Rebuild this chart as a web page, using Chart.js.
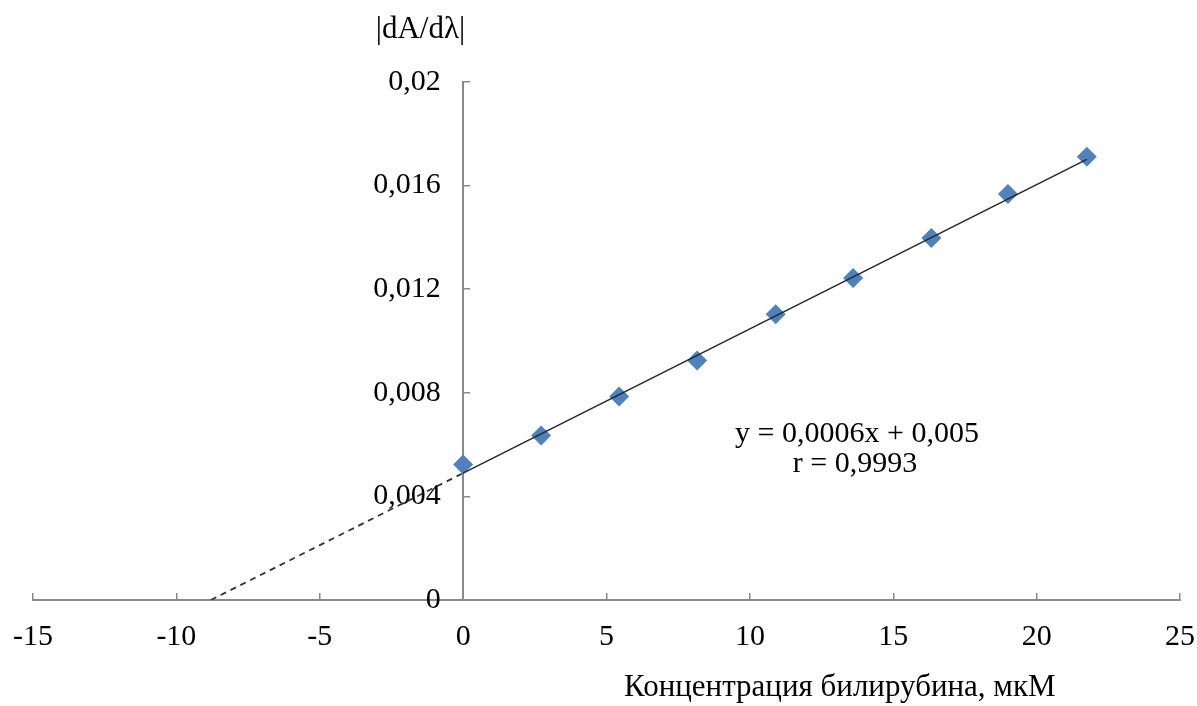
<!DOCTYPE html>
<html>
<head>
<meta charset="utf-8">
<script src="https://cdn.jsdelivr.net/npm/chart.js@4.4.1/dist/chart.umd.min.js"></script>
<style>
  html, body { margin: 0; padding: 0; background: #fff; }
  #wrap { width: 1197px; height: 706px; }
</style>
</head>
<body>
<div id="wrap"><canvas id="grafico" width="1197" height="706"></canvas></div>
<script>
// данные
const concentration = [0, 2.72, 5.44, 8.16, 10.9, 13.6, 16.33, 19.0, 21.75];
const derivative = [0.00523, 0.00635, 0.00786, 0.00925, 0.01103, 0.01243, 0.01398, 0.01568, 0.01711];
const xTicks = [-15, -10, -5, 0, 5, 10, 15, 20, 25];
const yTicks = [0, 0.004, 0.008, 0.012, 0.016, 0.02];
const trendSlope = 0.000557;
const trendIntercept = 0.0049;
const trendEndX = 21.75;
const equationLines = ['y = 0,0006x + 0,005', 'r = 0,9993'];
const xTitle = 'Концентрация билирубина, мкМ';
const yTitle = '|dA/dλ|';

const FONT = "'Liberation Serif', 'Times New Roman', serif";
const AXIS_COLOR = '#8a8a8a';

const zeroX = -trendIntercept / trendSlope;
const solidLine = [
    { x: 0, y: trendIntercept },
    { x: trendEndX, y: trendSlope * trendEndX + trendIntercept }
];
const dashedLine = [
    { x: zeroX, y: 0 },
    { x: 0, y: trendIntercept }
];
const points = concentration.map((x, i) => ({ x: x, y: derivative[i] }));

// подпись оси Y рисуется вплотную к оси, поэтому добавляем пробелы справа
const fmt = v => (v === 0 ? '0' : String(+v.toFixed(3)).replace('.', ',')) + '\u2002\u2005';

// подписи: заголовки осей и уравнение
const textPlugin = {
    id: 'texts',
    afterDraw(chart) {
        const c = chart.ctx;
        const x0 = chart.scales.x.getPixelForValue(0);
        c.save();
        c.fillStyle = '#000';
        c.textBaseline = 'middle';
        c.font = '31px ' + FONT;
        c.textAlign = 'right';
        c.fillText(yTitle, x0 + 2, 30);
        c.textAlign = 'left';
        c.fillText(xTitle, 624, 688);
        c.font = '30px ' + FONT;
        c.textAlign = 'center';
        c.fillText(equationLines[0], 857, 434);
        c.fillText(equationLines[1], 855, 464);
        c.restore();
    }
};

new Chart(document.getElementById('grafico'), {
    type: 'scatter',
    data: {
        datasets: [
            {
                label: 'trend',
                data: solidLine,
                showLine: true,
                borderColor: '#262626',
                borderWidth: 1.5,
                pointRadius: 0
            },
            {
                label: 'extrapolation',
                data: dashedLine,
                showLine: true,
                borderColor: '#333',
                borderWidth: 1.8,
                borderDash: [6, 5],
                pointRadius: 0
            },
            {
                label: 'points',
                data: points,
                pointStyle: 'rectRot',
                pointRadius: 10,
                pointHoverRadius: 10,
                backgroundColor: '#4F81BD',
                borderColor: '#4F81BD',
                borderWidth: 0
            }
        ]
    },
    options: {
        responsive: false,
        animation: false,
        events: [],
        layout: { padding: { left: 33, right: 17, top: 82, bottom: 0 } },
        plugins: {
            legend: { display: false },
            tooltip: { enabled: false }
        },
        scales: {
            x: {
                type: 'linear',
                position: 'bottom',
                min: -15,
                max: 25,
                afterBuildTicks: s => { s.ticks = xTicks.map(v => ({ value: v })); },
                afterFit: s => { s.height = 106; s.paddingLeft = 0; s.paddingRight = 0; },
                grid: { drawOnChartArea: false, tickLength: -7, color: AXIS_COLOR, lineWidth: 1.5 },
                border: { color: AXIS_COLOR, width: 2 },
                ticks: {
                    color: '#000',
                    padding: 26,
                    maxRotation: 0,
                    font: { family: FONT, size: 30 }
                }
            },
            y: {
                type: 'linear',
                position: { x: 0 },
                min: 0,
                max: 0.02,
                afterBuildTicks: s => { s.ticks = yTicks.map(v => ({ value: v })); },
                afterFit: s => { s.width = 0; s.paddingTop = 0; s.paddingBottom = 0; },
                grid: { drawOnChartArea: false, tickLength: -8, color: AXIS_COLOR, lineWidth: 1.5 },
                border: { color: AXIS_COLOR, width: 2 },
                ticks: {
                    color: '#000',
                    padding: 0,
                    font: { family: FONT, size: 30 },
                    callback: v => fmt(v)
                }
            }
        }
    },
    plugins: [textPlugin]
});
</script>
</body>
</html>
